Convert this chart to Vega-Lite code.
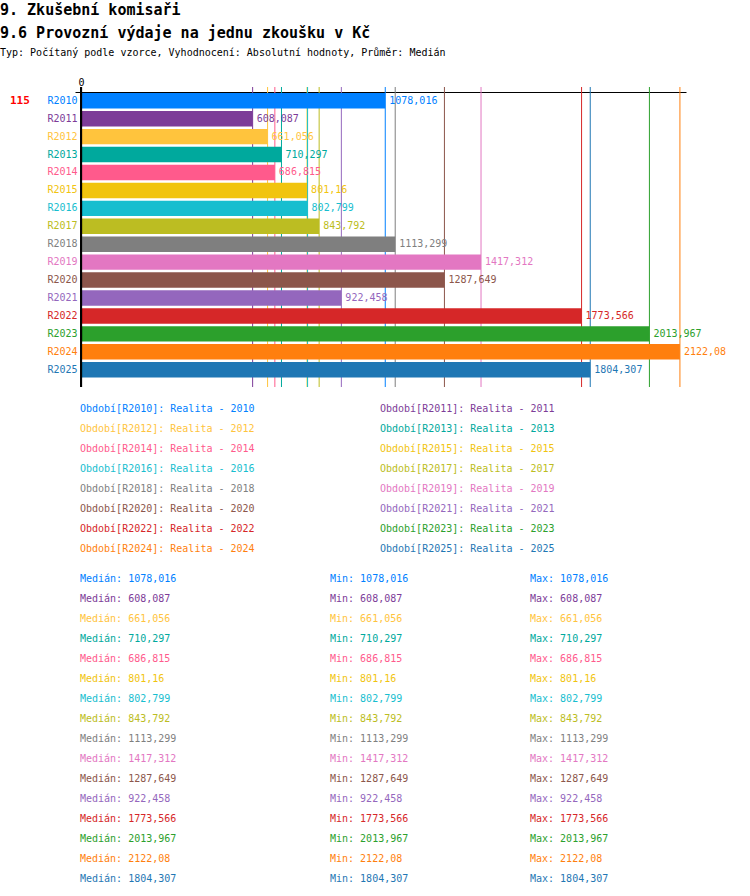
{
  "$schema": "https://vega.github.io/schema/vega-lite/v6.json",
  "padding": {"left": 0, "top": 3, "right": 0, "bottom": 0},
  "autosize": {"type": "pad"},
  "background": "white",
  "config": {
    "font": "DejaVu Sans Mono",
    "view": {"stroke": null},
    "locale": {"number": {"decimal": ",", "thousands": " ", "grouping": [3], "currency": ["", " Kč"]}}
  },
  "title": {
    "text": ["9. Zkušební komisaři", "9.6 Provozní výdaje na jednu zkoušku v Kč"],
    "subtitle": "Typ: Počítaný podle vzorce, Vyhodnocení: Absolutní hodnoty, Průměr: Medián",
    "anchor": "start",
    "dx": -10,
    "font": "DejaVu Sans Mono",
    "fontSize": 15,
    "fontWeight": "bold",
    "lineHeight": 23,
    "color": "black",
    "subtitleFont": "DejaVu Sans Mono",
    "subtitleFontSize": 10,
    "subtitleColor": "black",
    "subtitlePadding": 7,
    "offset": 19
  },
  "datasets": {
    "bars": [
      {"period": "R2010", "value": 1078.016},
      {"period": "R2011", "value": 608.087},
      {"period": "R2012", "value": 661.056},
      {"period": "R2013", "value": 710.297},
      {"period": "R2014", "value": 686.815},
      {"period": "R2015", "value": 801.16},
      {"period": "R2016", "value": 802.799},
      {"period": "R2017", "value": 843.792},
      {"period": "R2018", "value": 1113.299},
      {"period": "R2019", "value": 1417.312},
      {"period": "R2020", "value": 1287.649},
      {"period": "R2021", "value": 922.458},
      {"period": "R2022", "value": 1773.566},
      {"period": "R2023", "value": 2013.967},
      {"period": "R2024", "value": 2122.08},
      {"period": "R2025", "value": 1804.307}
    ],
    "stats": [
      {"period": "R2010", "stat": "Medián", "value": 1078.016}, {"period": "R2010", "stat": "Min", "value": 1078.016}, {"period": "R2010", "stat": "Max", "value": 1078.016},
      {"period": "R2011", "stat": "Medián", "value": 608.087}, {"period": "R2011", "stat": "Min", "value": 608.087}, {"period": "R2011", "stat": "Max", "value": 608.087},
      {"period": "R2012", "stat": "Medián", "value": 661.056}, {"period": "R2012", "stat": "Min", "value": 661.056}, {"period": "R2012", "stat": "Max", "value": 661.056},
      {"period": "R2013", "stat": "Medián", "value": 710.297}, {"period": "R2013", "stat": "Min", "value": 710.297}, {"period": "R2013", "stat": "Max", "value": 710.297},
      {"period": "R2014", "stat": "Medián", "value": 686.815}, {"period": "R2014", "stat": "Min", "value": 686.815}, {"period": "R2014", "stat": "Max", "value": 686.815},
      {"period": "R2015", "stat": "Medián", "value": 801.16}, {"period": "R2015", "stat": "Min", "value": 801.16}, {"period": "R2015", "stat": "Max", "value": 801.16},
      {"period": "R2016", "stat": "Medián", "value": 802.799}, {"period": "R2016", "stat": "Min", "value": 802.799}, {"period": "R2016", "stat": "Max", "value": 802.799},
      {"period": "R2017", "stat": "Medián", "value": 843.792}, {"period": "R2017", "stat": "Min", "value": 843.792}, {"period": "R2017", "stat": "Max", "value": 843.792},
      {"period": "R2018", "stat": "Medián", "value": 1113.299}, {"period": "R2018", "stat": "Min", "value": 1113.299}, {"period": "R2018", "stat": "Max", "value": 1113.299},
      {"period": "R2019", "stat": "Medián", "value": 1417.312}, {"period": "R2019", "stat": "Min", "value": 1417.312}, {"period": "R2019", "stat": "Max", "value": 1417.312},
      {"period": "R2020", "stat": "Medián", "value": 1287.649}, {"period": "R2020", "stat": "Min", "value": 1287.649}, {"period": "R2020", "stat": "Max", "value": 1287.649},
      {"period": "R2021", "stat": "Medián", "value": 922.458}, {"period": "R2021", "stat": "Min", "value": 922.458}, {"period": "R2021", "stat": "Max", "value": 922.458},
      {"period": "R2022", "stat": "Medián", "value": 1773.566}, {"period": "R2022", "stat": "Min", "value": 1773.566}, {"period": "R2022", "stat": "Max", "value": 1773.566},
      {"period": "R2023", "stat": "Medián", "value": 2013.967}, {"period": "R2023", "stat": "Min", "value": 2013.967}, {"period": "R2023", "stat": "Max", "value": 2013.967},
      {"period": "R2024", "stat": "Medián", "value": 2122.08}, {"period": "R2024", "stat": "Min", "value": 2122.08}, {"period": "R2024", "stat": "Max", "value": 2122.08},
      {"period": "R2025", "stat": "Medián", "value": 1804.307}, {"period": "R2025", "stat": "Min", "value": 1804.307}, {"period": "R2025", "stat": "Max", "value": 1804.307}
    ],
    "notes": [{"period": "R2010", "count": 115}]
  },
  "resolve": {"scale": {"color": "independent"}, "legend": {"color": "independent"}},
  "spacing": 10,
  "vconcat": [
    {
      "width": 611,
      "height": 295,
      "data": {"name": "bars"},
      "layer": [
        {
          "mark": {"type": "rule", "strokeWidth": 1, "yOffset": -5},
          "encoding": {
            "x": {"field": "value", "type": "quantitative",
              "scale": {"domain": [-21.3, 2143.6], "nice": false, "zero": false},
              "axis": {"orient": "top", "values": [0], "title": null, "grid": false, "ticks": false, "tickSize": 0,
                "domain": true, "domainColor": "black", "domainWidth": 1, "labelPadding": 5,
                "labelFont": "DejaVu Sans Mono", "labelFontSize": 10, "labelColor": "black"}},
            "color": {"field": "period", "type": "nominal",
              "scale": {
                "domain": ["R2010","R2011","R2012","R2013","R2014","R2015","R2016","R2017","R2018","R2019","R2020","R2021","R2022","R2023","R2024","R2025"],
                "range": ["#0080FF","#7D3C98","#FFC43D","#00A99D","#FF5A8C","#F1C40F","#17BECF","#BCBD22","#7F7F7F","#E377C2","#8C564B","#9467BD","#D62728","#2CA02C","#FF7F0E","#1F77B4"]
              },
              "legend": {
                "orient": "bottom", "direction": "horizontal", "columns": 2, "title": null,
                "symbolSize": 0, "symbolOpacity": 0, "symbolStrokeWidth": 0, "symbolType": "square",
                "labelOffset": -5, "labelFont": "DejaVu Sans Mono", "labelFontSize": 10, "labelLimit": 400,
                "columnPadding": 120, "rowPadding": 0, "clipHeight": 20, "offset": 12, "padding": 0,
                "labelExpr": "'Období[' + datum.label + ']: Realita - ' + slice(datum.label, 1)",
                "labelColor": {"expr": "({'R2010':'#0080FF','R2011':'#7D3C98','R2012':'#FFC43D','R2013':'#00A99D','R2014':'#FF5A8C','R2015':'#F1C40F','R2016':'#17BECF','R2017':'#BCBD22','R2018':'#7F7F7F','R2019':'#E377C2','R2020':'#8C564B','R2021':'#9467BD','R2022':'#D62728','R2023':'#2CA02C','R2024':'#FF7F0E','R2025':'#1F77B4'})[datum.value]"}
              }
            }
          }
        },
        {
          "mark": {"type": "bar"},
          "encoding": {
            "y": {"field": "period", "type": "nominal",
              "scale": {"domain": ["R2010","R2011","R2012","R2013","R2014","R2015","R2016","R2017","R2018","R2019","R2020","R2021","R2022","R2023","R2024","R2025"], "paddingInner": 0.14, "paddingOuter": 0.296, "align": 0.1},
              "axis": {"title": null, "domain": false, "ticks": false, "labelPadding": -2,
                "labelFont": "DejaVu Sans Mono", "labelFontSize": 10,
                "labelColor": {"expr": "({'R2010':'#0080FF','R2011':'#7D3C98','R2012':'#FFC43D','R2013':'#00A99D','R2014':'#FF5A8C','R2015':'#F1C40F','R2016':'#17BECF','R2017':'#BCBD22','R2018':'#7F7F7F','R2019':'#E377C2','R2020':'#8C564B','R2021':'#9467BD','R2022':'#D62728','R2023':'#2CA02C','R2024':'#FF7F0E','R2025':'#1F77B4'})[datum.value]"}}},
            "x": {"field": "value", "type": "quantitative"},
            "color": {"field": "period", "type": "nominal"}
          }
        },
        {
          "mark": {"type": "text", "align": "left", "baseline": "middle", "dx": 4, "font": "DejaVu Sans Mono", "fontSize": 10},
          "encoding": {
            "y": {"field": "period", "type": "nominal"},
            "x": {"field": "value", "type": "quantitative"},
            "text": {"field": "value", "type": "quantitative", "format": ".3~f"},
            "color": {"field": "period", "type": "nominal"}
          }
        },
        {
          "mark": {"type": "rule", "strokeWidth": 2, "color": "black", "yOffset": -5},
          "encoding": {"x": {"datum": 0, "type": "quantitative"}}
        },
        {
          "data": {"name": "notes"},
          "mark": {"type": "text", "align": "left", "baseline": "middle", "dx": -65, "font": "DejaVu Sans Mono", "fontSize": 11, "fontWeight": "bold", "color": "#FF0000"},
          "encoding": {
            "y": {"field": "period", "type": "nominal"},
            "x": {"datum": -21.3, "type": "quantitative"},
            "text": {"field": "count", "type": "quantitative"}
          }
        }
      ]
    },
    {
      "data": {"name": "stats"},
      "spacing": 0,
      "hconcat": [
        {
          "width": 250, "height": {"step": 20},
          "transform": [{"filter": "datum.stat === 'Medián'"}],
          "mark": {"type": "text", "align": "left", "baseline": "middle", "dx": 5, "font": "DejaVu Sans Mono", "fontSize": 10,
            "text": {"expr": "datum.stat + ': ' + replace(format(datum.value, '.3~f'), '.', ',')"}},
          "encoding": {
            "y": {"field": "period", "type": "nominal", "sort": null, "axis": null},
            "x": {"field": "stat", "type": "nominal", "scale": {"type": "point", "padding": 0, "align": 0}, "axis": null},
            "color": {"field": "period", "type": "nominal", "legend": null,
              "scale": {
                "domain": ["R2010","R2011","R2012","R2013","R2014","R2015","R2016","R2017","R2018","R2019","R2020","R2021","R2022","R2023","R2024","R2025"],
                "range": ["#0080FF","#7D3C98","#FFC43D","#00A99D","#FF5A8C","#F1C40F","#17BECF","#BCBD22","#7F7F7F","#E377C2","#8C564B","#9467BD","#D62728","#2CA02C","#FF7F0E","#1F77B4"]
              }}
          }
        },
        {
          "width": 200, "height": {"step": 20},
          "transform": [{"filter": "datum.stat === 'Min'"}],
          "mark": {"type": "text", "align": "left", "baseline": "middle", "dx": 5, "font": "DejaVu Sans Mono", "fontSize": 10,
            "text": {"expr": "datum.stat + ': ' + replace(format(datum.value, '.3~f'), '.', ',')"}},
          "encoding": {
            "y": {"field": "period", "type": "nominal", "sort": null, "axis": null},
            "x": {"field": "stat", "type": "nominal", "scale": {"type": "point", "padding": 0, "align": 0}, "axis": null},
            "color": {"field": "period", "type": "nominal", "legend": null}
          }
        },
        {
          "width": 150, "height": {"step": 20},
          "transform": [{"filter": "datum.stat === 'Max'"}],
          "mark": {"type": "text", "align": "left", "baseline": "middle", "dx": 5, "font": "DejaVu Sans Mono", "fontSize": 10,
            "text": {"expr": "datum.stat + ': ' + replace(format(datum.value, '.3~f'), '.', ',')"}},
          "encoding": {
            "y": {"field": "period", "type": "nominal", "sort": null, "axis": null},
            "x": {"field": "stat", "type": "nominal", "scale": {"type": "point", "padding": 0, "align": 0}, "axis": null},
            "color": {"field": "period", "type": "nominal", "legend": null}
          }
        }
      ]
    }
  ]
}
